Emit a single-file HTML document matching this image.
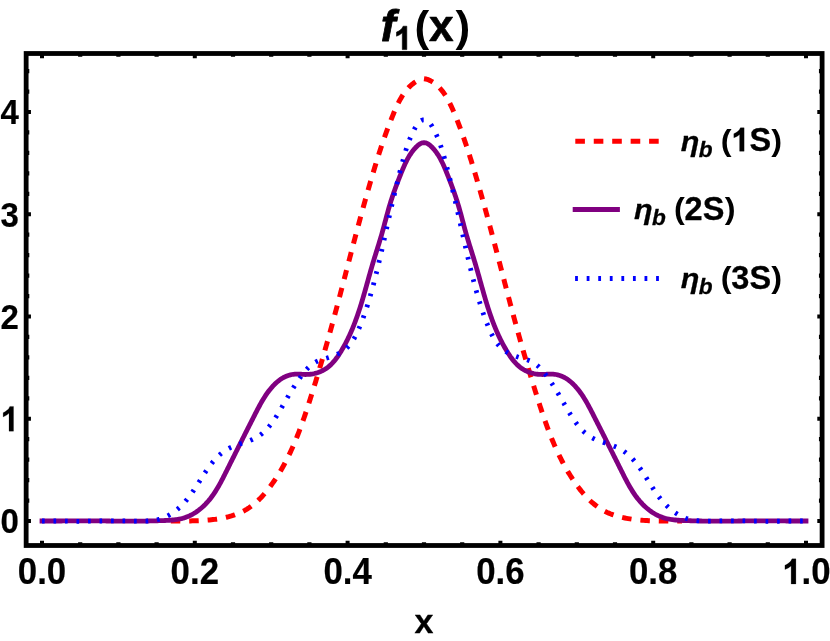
<!DOCTYPE html>
<html><head><meta charset="utf-8"><title>f1(x)</title>
<style>
html,body{margin:0;padding:0;background:#fff;}
svg{display:block;will-change:transform;}
text{font-family:"Liberation Sans",sans-serif;font-weight:bold;fill:#000;}
.i{font-style:italic;}
</style></head>
<body>
<svg width="830" height="641" viewBox="0 0 830 641">
<rect x="0" y="0" width="830" height="641" fill="#fff"/>
<!-- curves -->
<g fill="none" stroke-linejoin="round">
<path d="M166.00 520.92 L167.04 520.92 L168.72 520.93 L170.40 520.94 L172.08 520.94 L173.77 520.95 L175.45 520.96 L177.13 520.96 L178.81 520.97 L180.49 520.97 L182.17 520.97 L183.86 520.96 L185.55 520.95 L187.24 520.94 L188.93 520.92 L190.63 520.89 L192.33 520.86 L194.04 520.82 L195.76 520.77 L197.47 520.71 L199.19 520.64 L200.92 520.56 L202.64 520.47 L204.37 520.37 L206.10 520.25 L207.82 520.11 L209.54 519.96 L211.27 519.79 L212.98 519.60 L214.70 519.39 L216.40 519.16 L218.10 518.90 L219.80 518.63 L221.48 518.33 L223.16 518.00 L224.83 517.65 L226.48 517.27 L228.13 516.86 L229.76 516.42 L231.38 515.96 L232.98 515.46 L234.57 514.92 L236.14 514.35 L237.69 513.75 L239.23 513.11 L240.75 512.44 L242.25 511.72 L243.72 510.97 L245.18 510.17 L246.61 509.34 L248.02 508.46 L249.41 507.54 L250.77 506.58 L252.11 505.58 L253.43 504.54 L254.73 503.47 L256.01 502.37 L257.26 501.24 L258.49 500.07 L259.71 498.88 L260.90 497.65 L262.07 496.41 L263.23 495.14 L264.36 493.85 L265.48 492.53 L266.58 491.20 L267.66 489.86 L268.72 488.49 L269.77 487.12 L270.79 485.73 L271.81 484.33 L272.80 482.92 L273.79 481.50 L274.75 480.08 L275.70 478.65 L276.64 477.21 L277.56 475.77 L278.47 474.32 L279.36 472.86 L280.24 471.40 L281.10 469.93 L281.95 468.45 L282.79 466.97 L283.62 465.48 L284.43 463.99 L285.23 462.49 L286.02 460.99 L286.80 459.48 L287.57 457.97 L288.32 456.45 L289.06 454.92 L289.80 453.40 L290.52 451.86 L291.23 450.32 L291.93 448.78 L292.62 447.24 L293.30 445.68 L293.98 444.13 L294.64 442.57 L295.30 441.01 L295.94 439.44 L296.58 437.87 L297.21 436.30 L297.83 434.72 L298.45 433.14 L299.06 431.56 L299.66 429.97 L300.25 428.39 L300.84 426.79 L301.42 425.20 L301.99 423.60 L302.56 422.01 L303.13 420.41 L303.69 418.80 L304.24 417.20 L304.79 415.59 L305.33 413.98 L305.88 412.37 L306.41 410.76 L306.94 409.15 L307.47 407.54 L308.00 405.92 L308.52 404.31 L309.04 402.69 L309.56 401.08 L310.08 399.46 L310.59 397.84 L311.10 396.22 L311.61 394.60 L312.12 392.98 L312.63 391.37 L313.13 389.75 L313.64 388.13 L314.14 386.51 L314.64 384.88 L315.14 383.26 L315.64 381.64 L316.13 380.02 L316.62 378.40 L317.12 376.77 L317.61 375.15 L318.10 373.53 L318.58 371.90 L319.07 370.28 L319.55 368.65 L320.04 367.03 L320.52 365.40 L321.00 363.78 L321.48 362.15 L321.95 360.52 L322.43 358.90 L322.90 357.27 L323.38 355.64 L323.85 354.01 L324.32 352.38 L324.79 350.75 L325.25 349.12 L325.72 347.49 L326.18 345.86 L326.65 344.23 L327.11 342.59 L327.57 340.96 L328.03 339.33 L328.49 337.69 L328.94 336.06 L329.40 334.42 L329.85 332.79 L330.31 331.15 L330.76 329.51 L331.21 327.88 L331.66 326.24 L332.11 324.60 L332.56 322.96 L333.00 321.32 L333.45 319.68 L333.89 318.04 L334.34 316.40 L334.78 314.76 L335.22 313.12 L335.66 311.47 L336.10 309.83 L336.54 308.19 L336.98 306.54 L337.42 304.90 L337.86 303.26 L338.29 301.61 L338.73 299.97 L339.16 298.32 L339.60 296.68 L340.03 295.03 L340.47 293.39 L340.90 291.74 L341.33 290.09 L341.76 288.45 L342.20 286.80 L342.63 285.15 L343.06 283.51 L343.49 281.86 L343.92 280.21 L344.35 278.56 L344.78 276.92 L345.21 275.27 L345.64 273.62 L346.07 271.98 L346.50 270.33 L346.93 268.68 L347.36 267.03 L347.79 265.39 L348.22 263.74 L348.65 262.09 L349.08 260.45 L349.51 258.80 L349.94 257.15 L350.37 255.51 L350.80 253.86 L351.23 252.21 L351.66 250.57 L352.09 248.92 L352.52 247.28 L352.96 245.63 L353.39 243.99 L353.82 242.34 L354.25 240.70 L354.69 239.05 L355.12 237.41 L355.56 235.77 L355.99 234.12 L356.43 232.48 L356.87 230.84 L357.31 229.20 L357.74 227.56 L358.18 225.92 L358.62 224.28 L359.06 222.64 L359.51 221.00 L359.95 219.36 L360.39 217.72 L360.84 216.08 L361.28 214.44 L361.73 212.81 L362.18 211.17 L362.63 209.54 L363.08 207.90 L363.53 206.27 L363.98 204.64 L364.43 203.00 L364.89 201.37 L365.34 199.74 L365.80 198.11 L366.26 196.48 L366.72 194.85 L367.18 193.23 L367.64 191.60 L368.11 189.97 L368.57 188.35 L369.04 186.72 L369.51 185.10 L369.98 183.48 L370.45 181.86 L370.92 180.23 L371.40 178.61 L371.88 177.00 L372.35 175.38 L372.83 173.76 L373.32 172.15 L373.80 170.53 L374.29 168.92 L374.77 167.30 L375.26 165.69 L375.76 164.08 L376.25 162.47 L376.75 160.86 L377.25 159.26 L377.75 157.65 L378.26 156.04 L378.77 154.43 L379.28 152.83 L379.80 151.22 L380.32 149.62 L380.85 148.01 L381.38 146.41 L381.92 144.80 L382.46 143.19 L383.01 141.59 L383.56 139.98 L384.11 138.38 L384.68 136.77 L385.25 135.16 L385.82 133.56 L386.40 131.95 L386.99 130.34 L387.59 128.73 L388.19 127.12 L388.80 125.51 L389.42 123.90 L390.04 122.28 L390.67 120.67 L391.31 119.05 L391.96 117.44 L392.62 115.82 L393.29 114.20 L393.96 112.58 L394.65 110.96 L395.35 109.35 L396.07 107.74 L396.80 106.14 L397.55 104.56 L398.32 102.99 L399.11 101.44 L399.93 99.91 L400.77 98.41 L401.64 96.93 L402.54 95.48 L403.48 94.06 L404.44 92.67 L405.45 91.32 L406.49 90.02 L407.56 88.75 L408.68 87.53 L409.85 86.36 L411.05 85.24 L412.31 84.17 L413.61 83.16 L414.96 82.22 L416.34 81.36 L417.77 80.60 L419.23 79.95 L420.72 79.42 L422.24 79.03 L424.00 78.79 L425.76 79.03 L427.28 79.42 L428.77 79.95 L430.23 80.60 L431.66 81.36 L433.04 82.22 L434.39 83.16 L435.69 84.17 L436.95 85.24 L438.15 86.36 L439.32 87.53 L440.44 88.75 L441.51 90.02 L442.55 91.32 L443.56 92.67 L444.52 94.06 L445.46 95.48 L446.36 96.93 L447.23 98.41 L448.07 99.91 L448.89 101.44 L449.68 102.99 L450.45 104.56 L451.20 106.14 L451.93 107.74 L452.65 109.35 L453.35 110.96 L454.04 112.58 L454.71 114.20 L455.38 115.82 L456.04 117.44 L456.69 119.05 L457.33 120.67 L457.96 122.28 L458.58 123.90 L459.20 125.51 L459.81 127.12 L460.41 128.73 L461.01 130.34 L461.60 131.95 L462.18 133.56 L462.75 135.16 L463.32 136.77 L463.89 138.38 L464.44 139.98 L464.99 141.59 L465.54 143.19 L466.08 144.80 L466.62 146.41 L467.15 148.01 L467.68 149.62 L468.20 151.22 L468.72 152.83 L469.23 154.43 L469.74 156.04 L470.25 157.65 L470.75 159.26 L471.25 160.86 L471.75 162.47 L472.24 164.08 L472.74 165.69 L473.23 167.30 L473.71 168.92 L474.20 170.53 L474.68 172.15 L475.17 173.76 L475.65 175.38 L476.12 177.00 L476.60 178.61 L477.08 180.23 L477.55 181.86 L478.02 183.48 L478.49 185.10 L478.96 186.72 L479.43 188.35 L479.89 189.97 L480.36 191.60 L480.82 193.23 L481.28 194.85 L481.74 196.48 L482.20 198.11 L482.66 199.74 L483.11 201.37 L483.57 203.00 L484.02 204.64 L484.47 206.27 L484.92 207.90 L485.37 209.54 L485.82 211.17 L486.27 212.81 L486.72 214.44 L487.16 216.08 L487.61 217.72 L488.05 219.36 L488.49 221.00 L488.94 222.64 L489.38 224.28 L489.82 225.92 L490.26 227.56 L490.69 229.20 L491.13 230.84 L491.57 232.48 L492.01 234.12 L492.44 235.77 L492.88 237.41 L493.31 239.05 L493.75 240.70 L494.18 242.34 L494.61 243.99 L495.04 245.63 L495.48 247.28 L495.91 248.92 L496.34 250.57 L496.77 252.21 L497.20 253.86 L497.63 255.51 L498.06 257.15 L498.49 258.80 L498.92 260.45 L499.35 262.09 L499.78 263.74 L500.21 265.39 L500.64 267.03 L501.07 268.68 L501.50 270.33 L501.93 271.98 L502.36 273.62 L502.79 275.27 L503.22 276.92 L503.65 278.56 L504.08 280.21 L504.51 281.86 L504.94 283.51 L505.37 285.15 L505.80 286.80 L506.24 288.45 L506.67 290.09 L507.10 291.74 L507.53 293.39 L507.97 295.03 L508.40 296.68 L508.84 298.32 L509.27 299.97 L509.71 301.61 L510.14 303.26 L510.58 304.90 L511.02 306.54 L511.46 308.19 L511.90 309.83 L512.34 311.47 L512.78 313.12 L513.22 314.76 L513.66 316.40 L514.11 318.04 L514.55 319.68 L515.00 321.32 L515.44 322.96 L515.89 324.60 L516.34 326.24 L516.79 327.88 L517.24 329.51 L517.69 331.15 L518.15 332.79 L518.60 334.42 L519.06 336.06 L519.51 337.69 L519.97 339.33 L520.43 340.96 L520.89 342.59 L521.35 344.23 L521.82 345.86 L522.28 347.49 L522.75 349.12 L523.21 350.75 L523.68 352.38 L524.15 354.01 L524.62 355.64 L525.10 357.27 L525.57 358.90 L526.05 360.52 L526.52 362.15 L527.00 363.78 L527.48 365.40 L527.96 367.03 L528.45 368.65 L528.93 370.28 L529.42 371.90 L529.90 373.53 L530.39 375.15 L530.88 376.77 L531.38 378.40 L531.87 380.02 L532.36 381.64 L532.86 383.26 L533.36 384.88 L533.86 386.51 L534.36 388.13 L534.87 389.75 L535.37 391.37 L535.88 392.98 L536.39 394.60 L536.90 396.22 L537.41 397.84 L537.92 399.46 L538.44 401.08 L538.96 402.69 L539.48 404.31 L540.00 405.92 L540.53 407.54 L541.06 409.15 L541.59 410.76 L542.12 412.37 L542.67 413.98 L543.21 415.59 L543.76 417.20 L544.31 418.80 L544.87 420.41 L545.44 422.01 L546.01 423.60 L546.58 425.20 L547.16 426.79 L547.75 428.39 L548.34 429.97 L548.94 431.56 L549.55 433.14 L550.17 434.72 L550.79 436.30 L551.42 437.87 L552.06 439.44 L552.70 441.01 L553.36 442.57 L554.02 444.13 L554.70 445.68 L555.38 447.24 L556.07 448.78 L556.77 450.32 L557.48 451.86 L558.20 453.40 L558.94 454.92 L559.68 456.45 L560.43 457.97 L561.20 459.48 L561.98 460.99 L562.77 462.49 L563.57 463.99 L564.38 465.48 L565.21 466.97 L566.05 468.45 L566.90 469.93 L567.76 471.40 L568.64 472.86 L569.53 474.32 L570.44 475.77 L571.36 477.21 L572.30 478.65 L573.25 480.08 L574.21 481.50 L575.20 482.92 L576.19 484.33 L577.21 485.73 L578.23 487.12 L579.28 488.49 L580.34 489.86 L581.42 491.20 L582.52 492.53 L583.64 493.85 L584.77 495.14 L585.93 496.41 L587.10 497.65 L588.29 498.88 L589.51 500.07 L590.74 501.24 L591.99 502.37 L593.27 503.47 L594.57 504.54 L595.89 505.58 L597.23 506.58 L598.59 507.54 L599.98 508.46 L601.39 509.34 L602.82 510.17 L604.28 510.97 L605.75 511.72 L607.25 512.44 L608.77 513.11 L610.31 513.75 L611.86 514.35 L613.43 514.92 L615.02 515.46 L616.62 515.96 L618.24 516.42 L619.87 516.86 L621.52 517.27 L623.17 517.65 L624.84 518.00 L626.52 518.33 L628.20 518.63 L629.90 518.90 L631.60 519.16 L633.30 519.39 L635.02 519.60 L636.73 519.79 L638.46 519.96 L640.18 520.11 L641.90 520.25 L643.63 520.37 L645.36 520.47 L647.08 520.56 L648.81 520.64 L650.53 520.71 L652.24 520.77 L653.96 520.82 L655.67 520.86 L657.37 520.89 L659.07 520.92 L660.76 520.94 L662.45 520.95 L664.14 520.96 L665.83 520.97 L667.51 520.97 L669.19 520.97 L670.87 520.96 L672.55 520.96 L674.23 520.95 L675.92 520.94 L677.60 520.94 L679.28 520.93 L680.96 520.92 L682.00 520.92" stroke="#ff0000" stroke-width="5" stroke-dasharray="9.500 8.940" stroke-dashoffset="13.660"/>
<path d="M42.00 521.00 L59.99 521.01 L61.50 520.98 L63.02 520.95 L64.53 520.93 L66.04 520.91 L67.55 520.89 L69.06 520.87 L70.56 520.86 L72.07 520.85 L73.58 520.84 L75.08 520.83 L76.58 520.82 L78.09 520.82 L79.59 520.82 L81.09 520.82 L82.59 520.82 L84.09 520.82 L85.59 520.83 L87.09 520.83 L88.59 520.84 L90.09 520.85 L91.58 520.86 L93.08 520.87 L94.58 520.88 L96.07 520.89 L97.57 520.90 L99.06 520.92 L100.56 520.93 L102.05 520.95 L103.55 520.96 L105.04 520.97 L106.54 520.99 L108.03 521.00 L109.52 521.02 L111.02 521.03 L112.51 521.04 L114.00 521.05 L115.50 521.07 L116.99 521.08 L118.49 521.09 L119.98 521.10 L121.47 521.11 L122.97 521.12 L124.46 521.12 L125.96 521.13 L127.45 521.13 L128.95 521.13 L130.45 521.13 L131.94 521.13 L133.44 521.13 L134.94 521.13 L136.43 521.12 L137.93 521.11 L139.43 521.10 L140.93 521.09 L142.43 521.07 L143.93 521.05 L145.44 521.03 L146.94 521.01 L148.44 520.98 L149.95 520.95 L151.45 520.92 L152.96 520.89 L154.46 520.85 L155.97 520.81 L157.48 520.76 L158.99 520.71 L160.50 520.66 L162.01 520.61 L163.53 520.55 L165.04 520.48 L166.56 520.41 L168.07 520.33 L169.58 520.24 L171.09 520.13 L172.59 520.00 L174.09 519.85 L175.58 519.67 L177.06 519.46 L178.54 519.21 L180.00 518.93 L181.45 518.61 L182.88 518.24 L184.30 517.83 L185.71 517.36 L187.10 516.84 L188.47 516.28 L189.82 515.66 L191.16 515.00 L192.47 514.29 L193.77 513.54 L195.05 512.75 L196.30 511.92 L197.53 511.06 L198.75 510.15 L199.93 509.22 L201.10 508.25 L202.24 507.26 L203.36 506.23 L204.45 505.18 L205.52 504.11 L206.56 503.01 L207.57 501.89 L208.56 500.76 L209.52 499.61 L210.46 498.44 L211.37 497.25 L212.26 496.05 L213.13 494.83 L213.97 493.60 L214.80 492.36 L215.61 491.11 L216.40 489.84 L217.18 488.56 L217.94 487.28 L218.69 485.98 L219.43 484.68 L220.15 483.36 L220.86 482.05 L221.57 480.72 L222.26 479.39 L222.95 478.06 L223.64 476.72 L224.32 475.38 L224.99 474.03 L225.66 472.69 L226.34 471.34 L227.01 470.00 L227.68 468.65 L228.35 467.31 L229.02 465.96 L229.69 464.62 L230.36 463.28 L231.03 461.93 L231.70 460.59 L232.37 459.25 L233.04 457.90 L233.72 456.56 L234.39 455.22 L235.06 453.88 L235.73 452.54 L236.40 451.20 L237.07 449.85 L237.75 448.51 L238.42 447.17 L239.09 445.83 L239.76 444.49 L240.44 443.15 L241.11 441.81 L241.78 440.47 L242.46 439.13 L243.13 437.79 L243.80 436.45 L244.48 435.12 L245.15 433.78 L245.83 432.44 L246.50 431.10 L247.18 429.76 L247.86 428.42 L248.53 427.09 L249.21 425.75 L249.89 424.41 L250.57 423.07 L251.24 421.73 L251.92 420.40 L252.60 419.06 L253.28 417.72 L253.96 416.38 L254.64 415.05 L255.32 413.71 L256.01 412.37 L256.69 411.04 L257.39 409.71 L258.08 408.38 L258.78 407.05 L259.50 405.73 L260.22 404.42 L260.95 403.11 L261.69 401.81 L262.45 400.52 L263.22 399.24 L264.01 397.96 L264.81 396.70 L265.64 395.45 L266.48 394.21 L267.35 392.98 L268.23 391.77 L269.14 390.57 L270.08 389.39 L271.04 388.23 L272.03 387.08 L273.05 385.96 L274.10 384.86 L275.17 383.79 L276.27 382.75 L277.41 381.76 L278.57 380.81 L279.76 379.90 L280.99 379.04 L282.24 378.24 L283.53 377.50 L284.85 376.82 L286.20 376.21 L287.58 375.67 L289.00 375.20 L290.45 374.81 L291.92 374.50 L293.42 374.27 L294.92 374.12 L296.43 374.04 L297.94 374.04 L299.44 374.12 L300.93 374.23 L302.43 374.36 L303.93 374.45 L305.43 374.48 L306.94 374.46 L308.44 374.39 L309.95 374.25 L311.45 374.06 L312.93 373.81 L314.41 373.51 L315.87 373.15 L317.31 372.73 L318.72 372.25 L320.11 371.72 L321.48 371.13 L322.81 370.48 L324.11 369.78 L325.37 369.01 L326.58 368.19 L327.77 367.32 L328.91 366.39 L330.02 365.42 L331.09 364.40 L332.14 363.34 L333.15 362.24 L334.13 361.11 L335.09 359.95 L336.01 358.76 L336.92 357.54 L337.80 356.30 L338.65 355.04 L339.49 353.76 L340.31 352.47 L341.11 351.18 L341.90 349.87 L342.66 348.56 L343.42 347.25 L344.16 345.92 L344.88 344.60 L345.60 343.27 L346.29 341.93 L346.98 340.59 L347.65 339.24 L348.30 337.89 L348.95 336.53 L349.58 335.17 L350.20 333.81 L350.81 332.44 L351.41 331.07 L352.00 329.69 L352.58 328.31 L353.14 326.92 L353.70 325.54 L354.25 324.14 L354.78 322.75 L355.31 321.35 L355.83 319.95 L356.34 318.54 L356.85 317.13 L357.34 315.72 L357.83 314.31 L358.31 312.89 L358.78 311.47 L359.25 310.05 L359.71 308.63 L360.17 307.20 L360.62 305.78 L361.06 304.35 L361.50 302.91 L361.94 301.48 L362.37 300.05 L362.79 298.61 L363.21 297.17 L363.63 295.73 L364.05 294.29 L364.46 292.85 L364.87 291.41 L365.28 289.97 L365.69 288.52 L366.10 287.08 L366.50 285.63 L366.90 284.19 L367.31 282.74 L367.71 281.30 L368.11 279.85 L368.51 278.40 L368.92 276.96 L369.32 275.51 L369.73 274.07 L370.14 272.63 L370.55 271.18 L370.96 269.74 L371.37 268.30 L371.79 266.86 L372.21 265.42 L372.63 263.98 L373.06 262.54 L373.49 261.11 L373.93 259.67 L374.37 258.24 L374.81 256.81 L375.26 255.38 L375.70 253.95 L376.15 252.52 L376.60 251.09 L377.05 249.66 L377.49 248.23 L377.94 246.79 L378.38 245.36 L378.83 243.93 L379.27 242.50 L379.71 241.06 L380.14 239.62 L380.57 238.18 L381.00 236.74 L381.42 235.30 L381.84 233.86 L382.25 232.41 L382.65 230.96 L383.05 229.51 L383.44 228.06 L383.84 226.60 L384.23 225.15 L384.61 223.69 L385.00 222.23 L385.39 220.78 L385.77 219.32 L386.16 217.87 L386.55 216.41 L386.94 214.96 L387.33 213.51 L387.73 212.06 L388.13 210.62 L388.54 209.17 L388.95 207.73 L389.37 206.30 L389.79 204.87 L390.23 203.44 L390.67 202.01 L391.12 200.59 L391.57 199.17 L392.03 197.76 L392.50 196.34 L392.98 194.93 L393.46 193.53 L393.95 192.12 L394.45 190.71 L394.95 189.31 L395.46 187.91 L395.97 186.51 L396.49 185.10 L397.02 183.70 L397.55 182.30 L398.09 180.90 L398.63 179.50 L399.18 178.10 L399.73 176.69 L400.28 175.29 L400.85 173.88 L401.41 172.48 L401.99 171.07 L402.57 169.66 L403.16 168.26 L403.76 166.86 L404.37 165.47 L405.00 164.09 L405.65 162.72 L406.32 161.36 L407.01 160.01 L407.72 158.69 L408.45 157.38 L409.21 156.09 L410.00 154.82 L410.82 153.58 L411.67 152.36 L412.56 151.17 L413.48 150.01 L414.44 148.89 L415.44 147.79 L416.48 146.73 L417.56 145.71 L418.70 144.76 L419.89 143.92 L421.16 143.26 L422.51 142.82 L424.00 142.65 L425.49 142.82 L426.84 143.26 L428.11 143.92 L429.30 144.76 L430.44 145.71 L431.52 146.73 L432.56 147.79 L433.56 148.89 L434.52 150.01 L435.44 151.17 L436.33 152.36 L437.18 153.58 L438.00 154.82 L438.79 156.09 L439.55 157.38 L440.28 158.69 L440.99 160.01 L441.68 161.36 L442.35 162.72 L443.00 164.09 L443.63 165.47 L444.24 166.86 L444.84 168.26 L445.43 169.66 L446.01 171.07 L446.59 172.48 L447.15 173.88 L447.72 175.29 L448.27 176.69 L448.82 178.10 L449.37 179.50 L449.91 180.90 L450.45 182.30 L450.98 183.70 L451.51 185.10 L452.03 186.51 L452.54 187.91 L453.05 189.31 L453.55 190.71 L454.05 192.12 L454.54 193.53 L455.02 194.93 L455.50 196.34 L455.97 197.76 L456.43 199.17 L456.88 200.59 L457.33 202.01 L457.77 203.44 L458.21 204.87 L458.63 206.30 L459.05 207.73 L459.46 209.17 L459.87 210.62 L460.27 212.06 L460.67 213.51 L461.06 214.96 L461.45 216.41 L461.84 217.87 L462.23 219.32 L462.61 220.78 L463.00 222.23 L463.39 223.69 L463.77 225.15 L464.16 226.60 L464.56 228.06 L464.95 229.51 L465.35 230.96 L465.75 232.41 L466.16 233.86 L466.58 235.30 L467.00 236.74 L467.43 238.18 L467.86 239.62 L468.29 241.06 L468.73 242.50 L469.17 243.93 L469.62 245.36 L470.06 246.79 L470.51 248.23 L470.95 249.66 L471.40 251.09 L471.85 252.52 L472.30 253.95 L472.74 255.38 L473.19 256.81 L473.63 258.24 L474.07 259.67 L474.51 261.11 L474.94 262.54 L475.37 263.98 L475.79 265.42 L476.21 266.86 L476.63 268.30 L477.04 269.74 L477.45 271.18 L477.86 272.63 L478.27 274.07 L478.68 275.51 L479.08 276.96 L479.49 278.40 L479.89 279.85 L480.29 281.30 L480.69 282.74 L481.10 284.19 L481.50 285.63 L481.90 287.08 L482.31 288.52 L482.72 289.97 L483.13 291.41 L483.54 292.85 L483.95 294.29 L484.37 295.73 L484.79 297.17 L485.21 298.61 L485.63 300.05 L486.06 301.48 L486.50 302.91 L486.94 304.35 L487.38 305.78 L487.83 307.20 L488.29 308.63 L488.75 310.05 L489.22 311.47 L489.69 312.89 L490.17 314.31 L490.66 315.72 L491.15 317.13 L491.66 318.54 L492.17 319.95 L492.69 321.35 L493.22 322.75 L493.75 324.14 L494.30 325.54 L494.86 326.92 L495.42 328.31 L496.00 329.69 L496.59 331.07 L497.19 332.44 L497.80 333.81 L498.42 335.17 L499.05 336.53 L499.70 337.89 L500.35 339.24 L501.02 340.59 L501.71 341.93 L502.40 343.27 L503.12 344.60 L503.84 345.92 L504.58 347.25 L505.34 348.56 L506.10 349.87 L506.89 351.18 L507.69 352.47 L508.51 353.76 L509.35 355.04 L510.20 356.30 L511.08 357.54 L511.99 358.76 L512.91 359.95 L513.87 361.11 L514.85 362.24 L515.86 363.34 L516.91 364.40 L517.98 365.42 L519.09 366.39 L520.23 367.32 L521.42 368.19 L522.63 369.01 L523.89 369.78 L525.19 370.48 L526.52 371.13 L527.89 371.72 L529.28 372.25 L530.69 372.73 L532.13 373.15 L533.59 373.51 L535.07 373.81 L536.55 374.06 L538.05 374.25 L539.56 374.39 L541.06 374.46 L542.57 374.48 L544.07 374.45 L545.57 374.36 L547.07 374.23 L548.56 374.12 L550.06 374.04 L551.57 374.04 L553.08 374.12 L554.58 374.27 L556.08 374.50 L557.55 374.81 L559.00 375.20 L560.42 375.67 L561.80 376.21 L563.15 376.82 L564.47 377.50 L565.76 378.24 L567.01 379.04 L568.24 379.90 L569.43 380.81 L570.59 381.76 L571.73 382.75 L572.83 383.79 L573.90 384.86 L574.95 385.96 L575.97 387.08 L576.96 388.23 L577.92 389.39 L578.86 390.57 L579.77 391.77 L580.65 392.98 L581.52 394.21 L582.36 395.45 L583.19 396.70 L583.99 397.96 L584.78 399.24 L585.55 400.52 L586.31 401.81 L587.05 403.11 L587.78 404.42 L588.50 405.73 L589.22 407.05 L589.92 408.38 L590.61 409.71 L591.31 411.04 L591.99 412.37 L592.68 413.71 L593.36 415.05 L594.04 416.38 L594.72 417.72 L595.40 419.06 L596.08 420.40 L596.76 421.73 L597.43 423.07 L598.11 424.41 L598.79 425.75 L599.47 427.09 L600.14 428.42 L600.82 429.76 L601.50 431.10 L602.17 432.44 L602.85 433.78 L603.52 435.12 L604.20 436.45 L604.87 437.79 L605.54 439.13 L606.22 440.47 L606.89 441.81 L607.56 443.15 L608.24 444.49 L608.91 445.83 L609.58 447.17 L610.25 448.51 L610.93 449.85 L611.60 451.20 L612.27 452.54 L612.94 453.88 L613.61 455.22 L614.28 456.56 L614.96 457.90 L615.63 459.25 L616.30 460.59 L616.97 461.93 L617.64 463.28 L618.31 464.62 L618.98 465.96 L619.65 467.31 L620.32 468.65 L620.99 470.00 L621.66 471.34 L622.34 472.69 L623.01 474.03 L623.68 475.38 L624.36 476.72 L625.05 478.06 L625.74 479.39 L626.43 480.72 L627.14 482.05 L627.85 483.36 L628.57 484.68 L629.31 485.98 L630.06 487.28 L630.82 488.56 L631.60 489.84 L632.39 491.11 L633.20 492.36 L634.03 493.60 L634.87 494.83 L635.74 496.05 L636.63 497.25 L637.54 498.44 L638.48 499.61 L639.44 500.76 L640.43 501.89 L641.44 503.01 L642.48 504.11 L643.55 505.18 L644.64 506.23 L645.76 507.26 L646.90 508.25 L648.07 509.22 L649.25 510.15 L650.47 511.06 L651.70 511.92 L652.95 512.75 L654.23 513.54 L655.53 514.29 L656.84 515.00 L658.18 515.66 L659.53 516.28 L660.90 516.84 L662.29 517.36 L663.70 517.83 L665.12 518.24 L666.55 518.61 L668.00 518.93 L669.46 519.21 L670.94 519.46 L672.42 519.67 L673.91 519.85 L675.41 520.00 L676.91 520.13 L678.42 520.24 L679.93 520.33 L681.44 520.41 L682.96 520.48 L684.47 520.55 L685.99 520.61 L687.50 520.66 L689.01 520.71 L690.52 520.76 L692.03 520.81 L693.54 520.85 L695.04 520.89 L696.55 520.92 L698.05 520.95 L699.56 520.98 L701.06 521.01 L702.56 521.03 L704.07 521.05 L705.57 521.07 L707.07 521.09 L708.57 521.10 L710.07 521.11 L711.57 521.12 L713.06 521.13 L714.56 521.13 L716.06 521.13 L717.55 521.13 L719.05 521.13 L720.55 521.13 L722.04 521.13 L723.54 521.12 L725.03 521.12 L726.53 521.11 L728.02 521.10 L729.51 521.09 L731.01 521.08 L732.50 521.07 L734.00 521.05 L735.49 521.04 L736.98 521.03 L738.48 521.02 L739.97 521.00 L741.46 520.99 L742.96 520.97 L744.45 520.96 L745.95 520.95 L747.44 520.93 L748.94 520.92 L750.43 520.90 L751.93 520.89 L753.42 520.88 L754.92 520.87 L756.42 520.86 L757.91 520.85 L759.41 520.84 L760.91 520.83 L762.41 520.83 L763.91 520.82 L765.41 520.82 L766.91 520.82 L768.41 520.82 L769.91 520.82 L771.42 520.82 L772.92 520.83 L774.42 520.84 L775.93 520.85 L777.44 520.86 L778.94 520.87 L780.45 520.89 L781.96 520.91 L783.47 520.93 L784.98 520.95 L786.50 520.98 L788.01 521.01 L806.00 521.00" stroke="#800080" stroke-width="4.8" stroke-linecap="square"/>
<path d="M42.00 521.00 L60.00 521.00 L61.60 521.06 L63.20 521.11 L64.79 521.15 L66.37 521.19 L67.94 521.22 L69.50 521.24 L71.06 521.26 L72.61 521.28 L74.16 521.29 L75.70 521.29 L77.23 521.30 L78.76 521.29 L80.28 521.29 L81.80 521.28 L83.31 521.27 L84.82 521.25 L86.33 521.23 L87.84 521.22 L89.34 521.19 L90.84 521.17 L92.34 521.15 L93.83 521.12 L95.33 521.09 L96.82 521.07 L98.31 521.04 L99.80 521.01 L101.30 520.99 L102.79 520.96 L104.28 520.94 L105.78 520.91 L107.28 520.89 L108.77 520.87 L110.27 520.85 L111.78 520.84 L113.28 520.82 L114.79 520.81 L116.31 520.81 L117.82 520.80 L119.34 520.80 L120.87 520.81 L122.40 520.82 L123.94 520.83 L125.48 520.85 L127.03 520.87 L128.58 520.90 L130.14 520.94 L131.71 520.98 L133.29 521.02 L134.86 521.06 L136.44 521.10 L138.02 521.13 L139.60 521.15 L141.18 521.16 L142.76 521.15 L144.33 521.12 L145.89 521.07 L147.45 521.00 L149.00 520.90 L150.54 520.76 L152.06 520.59 L153.57 520.39 L155.07 520.14 L156.55 519.85 L158.02 519.51 L159.46 519.12 L160.89 518.69 L162.29 518.20 L163.68 517.67 L165.05 517.09 L166.39 516.46 L167.72 515.80 L169.03 515.09 L170.32 514.34 L171.58 513.55 L172.83 512.73 L174.06 511.86 L175.27 510.97 L176.45 510.03 L177.62 509.07 L178.77 508.08 L179.90 507.05 L181.00 506.00 L182.09 504.92 L183.16 503.82 L184.20 502.69 L185.23 501.54 L186.24 500.37 L187.22 499.18 L188.19 497.97 L189.14 496.74 L190.07 495.50 L190.99 494.24 L191.89 492.97 L192.78 491.69 L193.66 490.40 L194.52 489.10 L195.38 487.79 L196.23 486.48 L197.08 485.16 L197.92 483.84 L198.76 482.51 L199.59 481.19 L200.42 479.86 L201.25 478.54 L202.08 477.22 L202.92 475.91 L203.76 474.61 L204.60 473.31 L205.45 472.02 L206.31 470.74 L207.18 469.47 L208.05 468.22 L208.94 466.98 L209.84 465.75 L210.75 464.55 L211.68 463.36 L212.62 462.19 L213.59 461.05 L214.57 459.93 L215.57 458.83 L216.59 457.75 L217.64 456.71 L218.70 455.69 L219.80 454.70 L220.92 453.75 L222.07 452.82 L223.24 451.93 L224.45 451.08 L225.69 450.26 L226.96 449.48 L228.27 448.74 L229.61 448.04 L230.98 447.39 L232.39 446.77 L233.83 446.18 L235.29 445.62 L236.78 445.09 L238.27 444.57 L239.78 444.07 L241.29 443.57 L242.81 443.07 L244.32 442.57 L245.82 442.07 L247.31 441.54 L248.78 441.00 L250.23 440.43 L251.65 439.84 L253.05 439.21 L254.41 438.54 L255.74 437.83 L257.03 437.09 L258.30 436.30 L259.53 435.48 L260.74 434.61 L261.91 433.70 L263.05 432.75 L264.16 431.76 L265.24 430.73 L266.30 429.67 L267.33 428.57 L268.34 427.44 L269.32 426.29 L270.28 425.10 L271.22 423.89 L272.14 422.66 L273.04 421.41 L273.93 420.14 L274.79 418.85 L275.65 417.55 L276.48 416.24 L277.31 414.92 L278.13 413.59 L278.93 412.25 L279.72 410.91 L280.51 409.56 L281.29 408.22 L282.07 406.88 L282.84 405.55 L283.60 404.22 L284.37 402.89 L285.13 401.58 L285.89 400.26 L286.66 398.95 L287.42 397.64 L288.19 396.34 L288.95 395.05 L289.73 393.75 L290.50 392.46 L291.28 391.17 L292.07 389.89 L292.87 388.60 L293.67 387.33 L294.48 386.05 L295.30 384.77 L296.14 383.50 L296.98 382.23 L297.84 380.96 L298.71 379.69 L299.59 378.42 L300.49 377.15 L301.40 375.89 L302.34 374.63 L303.29 373.38 L304.26 372.16 L305.26 370.95 L306.29 369.77 L307.34 368.63 L308.42 367.53 L309.53 366.47 L310.67 365.46 L311.84 364.50 L313.06 363.61 L314.31 362.78 L315.60 362.02 L316.93 361.33 L318.30 360.73 L319.71 360.19 L321.15 359.70 L322.62 359.25 L324.09 358.83 L325.58 358.41 L327.07 357.98 L328.56 357.53 L330.04 357.06 L331.50 356.55 L332.95 356.02 L334.39 355.45 L335.80 354.85 L337.20 354.21 L338.56 353.53 L339.90 352.81 L341.21 352.06 L342.48 351.25 L343.72 350.40 L344.91 349.51 L346.06 348.57 L347.17 347.57 L348.23 346.52 L349.24 345.42 L350.20 344.28 L351.12 343.09 L352.01 341.85 L352.85 340.59 L353.66 339.28 L354.43 337.95 L355.17 336.59 L355.89 335.21 L356.58 333.81 L357.25 332.40 L357.89 330.97 L358.52 329.54 L359.13 328.10 L359.74 326.66 L360.32 325.21 L360.90 323.77 L361.47 322.33 L362.02 320.89 L362.57 319.45 L363.10 318.00 L363.63 316.56 L364.15 315.12 L364.65 313.67 L365.15 312.23 L365.64 310.78 L366.12 309.33 L366.60 307.88 L367.07 306.43 L367.53 304.98 L367.98 303.53 L368.43 302.08 L368.87 300.63 L369.31 299.17 L369.74 297.71 L370.16 296.25 L370.59 294.79 L371.00 293.33 L371.42 291.87 L371.83 290.40 L372.23 288.93 L372.63 287.47 L373.03 286.00 L373.43 284.52 L373.82 283.05 L374.20 281.58 L374.59 280.10 L374.97 278.62 L375.35 277.15 L375.72 275.67 L376.09 274.18 L376.46 272.70 L376.83 271.22 L377.19 269.74 L377.55 268.25 L377.91 266.76 L378.27 265.28 L378.62 263.79 L378.98 262.30 L379.33 260.81 L379.67 259.32 L380.02 257.83 L380.37 256.34 L380.71 254.85 L381.05 253.35 L381.39 251.86 L381.73 250.36 L382.07 248.87 L382.40 247.38 L382.74 245.88 L383.07 244.39 L383.41 242.89 L383.74 241.39 L384.07 239.90 L384.41 238.40 L384.74 236.90 L385.07 235.41 L385.40 233.91 L385.73 232.41 L386.06 230.92 L386.39 229.42 L386.72 227.93 L387.05 226.43 L387.39 224.93 L387.72 223.44 L388.05 221.94 L388.38 220.45 L388.72 218.95 L389.05 217.46 L389.39 215.96 L389.72 214.47 L390.06 212.98 L390.39 211.48 L390.73 209.99 L391.07 208.50 L391.41 207.01 L391.75 205.51 L392.09 204.02 L392.44 202.53 L392.78 201.04 L393.13 199.55 L393.47 198.07 L393.82 196.58 L394.17 195.09 L394.52 193.60 L394.88 192.12 L395.23 190.63 L395.59 189.14 L395.95 187.66 L396.31 186.18 L396.67 184.69 L397.03 183.21 L397.40 181.73 L397.77 180.25 L398.14 178.77 L398.51 177.29 L398.88 175.81 L399.26 174.33 L399.64 172.86 L400.02 171.38 L400.40 169.91 L400.79 168.43 L401.18 166.96 L401.57 165.49 L401.96 164.02 L402.36 162.55 L402.76 161.08 L403.16 159.61 L403.56 158.14 L403.97 156.68 L404.39 155.21 L404.81 153.75 L405.25 152.29 L405.69 150.83 L406.14 149.38 L406.60 147.92 L407.08 146.47 L407.58 145.02 L408.08 143.57 L408.61 142.13 L409.15 140.68 L409.72 139.25 L410.30 137.81 L410.91 136.38 L411.54 134.95 L412.20 133.53 L412.88 132.10 L413.59 130.69 L414.33 129.27 L415.10 127.86 L415.90 126.47 L416.74 125.11 L417.63 123.82 L418.57 122.65 L419.59 121.63 L420.68 120.80 L421.85 120.20 L423.12 119.85 L424.00 119.85 L424.88 119.85 L426.15 120.20 L427.32 120.80 L428.41 121.63 L429.43 122.65 L430.37 123.82 L431.26 125.11 L432.10 126.47 L432.90 127.86 L433.67 129.27 L434.41 130.69 L435.12 132.10 L435.80 133.53 L436.46 134.95 L437.09 136.38 L437.70 137.81 L438.28 139.25 L438.85 140.68 L439.39 142.13 L439.92 143.57 L440.42 145.02 L440.92 146.47 L441.40 147.92 L441.86 149.38 L442.31 150.83 L442.75 152.29 L443.19 153.75 L443.61 155.21 L444.03 156.68 L444.44 158.14 L444.84 159.61 L445.24 161.08 L445.64 162.55 L446.04 164.02 L446.43 165.49 L446.82 166.96 L447.21 168.43 L447.60 169.91 L447.98 171.38 L448.36 172.86 L448.74 174.33 L449.12 175.81 L449.49 177.29 L449.86 178.77 L450.23 180.25 L450.60 181.73 L450.97 183.21 L451.33 184.69 L451.69 186.18 L452.05 187.66 L452.41 189.14 L452.77 190.63 L453.12 192.12 L453.48 193.60 L453.83 195.09 L454.18 196.58 L454.53 198.07 L454.87 199.55 L455.22 201.04 L455.56 202.53 L455.91 204.02 L456.25 205.51 L456.59 207.01 L456.93 208.50 L457.27 209.99 L457.61 211.48 L457.94 212.98 L458.28 214.47 L458.61 215.96 L458.95 217.46 L459.28 218.95 L459.62 220.45 L459.95 221.94 L460.28 223.44 L460.61 224.93 L460.95 226.43 L461.28 227.93 L461.61 229.42 L461.94 230.92 L462.27 232.41 L462.60 233.91 L462.93 235.41 L463.26 236.90 L463.59 238.40 L463.93 239.90 L464.26 241.39 L464.59 242.89 L464.93 244.39 L465.26 245.88 L465.60 247.38 L465.93 248.87 L466.27 250.36 L466.61 251.86 L466.95 253.35 L467.29 254.85 L467.63 256.34 L467.98 257.83 L468.33 259.32 L468.67 260.81 L469.02 262.30 L469.38 263.79 L469.73 265.28 L470.09 266.76 L470.45 268.25 L470.81 269.74 L471.17 271.22 L471.54 272.70 L471.91 274.18 L472.28 275.67 L472.65 277.15 L473.03 278.62 L473.41 280.10 L473.80 281.58 L474.18 283.05 L474.57 284.52 L474.97 286.00 L475.37 287.47 L475.77 288.93 L476.17 290.40 L476.58 291.87 L477.00 293.33 L477.41 294.79 L477.84 296.25 L478.26 297.71 L478.69 299.17 L479.13 300.63 L479.57 302.08 L480.02 303.53 L480.47 304.98 L480.93 306.43 L481.40 307.88 L481.88 309.33 L482.36 310.78 L482.85 312.23 L483.35 313.67 L483.85 315.12 L484.37 316.56 L484.90 318.00 L485.43 319.45 L485.98 320.89 L486.53 322.33 L487.10 323.77 L487.68 325.21 L488.26 326.66 L488.87 328.10 L489.48 329.54 L490.11 330.97 L490.75 332.40 L491.42 333.81 L492.11 335.21 L492.83 336.59 L493.57 337.95 L494.34 339.28 L495.15 340.59 L495.99 341.85 L496.88 343.09 L497.80 344.28 L498.76 345.42 L499.77 346.52 L500.83 347.57 L501.94 348.57 L503.09 349.51 L504.28 350.40 L505.52 351.25 L506.79 352.06 L508.10 352.81 L509.44 353.53 L510.80 354.21 L512.20 354.85 L513.61 355.45 L515.05 356.02 L516.50 356.55 L517.96 357.06 L519.44 357.53 L520.93 357.98 L522.42 358.41 L523.91 358.83 L525.38 359.25 L526.85 359.70 L528.29 360.19 L529.70 360.73 L531.07 361.33 L532.40 362.02 L533.69 362.78 L534.94 363.61 L536.16 364.50 L537.33 365.46 L538.47 366.47 L539.58 367.53 L540.66 368.63 L541.71 369.77 L542.74 370.95 L543.74 372.16 L544.71 373.38 L545.66 374.63 L546.60 375.89 L547.51 377.15 L548.41 378.42 L549.29 379.69 L550.16 380.96 L551.02 382.23 L551.86 383.50 L552.70 384.77 L553.52 386.05 L554.33 387.33 L555.13 388.60 L555.93 389.89 L556.72 391.17 L557.50 392.46 L558.27 393.75 L559.05 395.05 L559.81 396.34 L560.58 397.64 L561.34 398.95 L562.11 400.26 L562.87 401.58 L563.63 402.89 L564.40 404.22 L565.16 405.55 L565.93 406.88 L566.71 408.22 L567.49 409.56 L568.28 410.91 L569.07 412.25 L569.87 413.59 L570.69 414.92 L571.52 416.24 L572.35 417.55 L573.21 418.85 L574.07 420.14 L574.96 421.41 L575.86 422.66 L576.78 423.89 L577.72 425.10 L578.68 426.29 L579.66 427.44 L580.67 428.57 L581.70 429.67 L582.76 430.73 L583.84 431.76 L584.95 432.75 L586.09 433.70 L587.26 434.61 L588.47 435.48 L589.70 436.30 L590.97 437.09 L592.26 437.83 L593.59 438.54 L594.95 439.21 L596.35 439.84 L597.77 440.43 L599.22 441.00 L600.69 441.54 L602.18 442.07 L603.68 442.57 L605.19 443.07 L606.71 443.57 L608.22 444.07 L609.73 444.57 L611.22 445.09 L612.71 445.62 L614.17 446.18 L615.61 446.77 L617.02 447.39 L618.39 448.04 L619.73 448.74 L621.04 449.48 L622.31 450.26 L623.55 451.08 L624.76 451.93 L625.93 452.82 L627.08 453.75 L628.20 454.70 L629.30 455.69 L630.36 456.71 L631.41 457.75 L632.43 458.83 L633.43 459.93 L634.41 461.05 L635.38 462.19 L636.32 463.36 L637.25 464.55 L638.16 465.75 L639.06 466.98 L639.95 468.22 L640.82 469.47 L641.69 470.74 L642.55 472.02 L643.40 473.31 L644.24 474.61 L645.08 475.91 L645.92 477.22 L646.75 478.54 L647.58 479.86 L648.41 481.19 L649.24 482.51 L650.08 483.84 L650.92 485.16 L651.77 486.48 L652.62 487.79 L653.48 489.10 L654.34 490.40 L655.22 491.69 L656.11 492.97 L657.01 494.24 L657.93 495.50 L658.86 496.74 L659.81 497.97 L660.78 499.18 L661.76 500.37 L662.77 501.54 L663.80 502.69 L664.84 503.82 L665.91 504.92 L667.00 506.00 L668.10 507.05 L669.23 508.08 L670.38 509.07 L671.55 510.03 L672.73 510.97 L673.94 511.86 L675.17 512.73 L676.42 513.55 L677.68 514.34 L678.97 515.09 L680.28 515.80 L681.61 516.46 L682.95 517.09 L684.32 517.67 L685.71 518.20 L687.11 518.69 L688.54 519.12 L689.98 519.51 L691.45 519.85 L692.93 520.14 L694.43 520.39 L695.94 520.59 L697.46 520.76 L699.00 520.90 L700.55 521.00 L702.11 521.07 L703.67 521.12 L705.24 521.15 L706.82 521.16 L708.40 521.15 L709.98 521.13 L711.56 521.10 L713.14 521.06 L714.71 521.02 L716.29 520.98 L717.86 520.94 L719.42 520.90 L720.97 520.87 L722.52 520.85 L724.06 520.83 L725.60 520.82 L727.13 520.81 L728.66 520.80 L730.18 520.80 L731.69 520.81 L733.21 520.81 L734.72 520.82 L736.22 520.84 L737.73 520.85 L739.23 520.87 L740.72 520.89 L742.22 520.91 L743.72 520.94 L745.21 520.96 L746.70 520.99 L748.20 521.01 L749.69 521.04 L751.18 521.07 L752.67 521.09 L754.17 521.12 L755.66 521.15 L757.16 521.17 L758.66 521.19 L760.16 521.22 L761.67 521.23 L763.18 521.25 L764.69 521.27 L766.20 521.28 L767.72 521.29 L769.24 521.29 L770.77 521.30 L772.30 521.29 L773.84 521.29 L775.39 521.28 L776.94 521.26 L778.50 521.24 L780.06 521.22 L781.63 521.19 L783.21 521.15 L784.80 521.11 L786.40 521.06 L788.00 521.00 L806.00 521.00" stroke="#0000ff" stroke-width="4.8" stroke-dasharray="2.65 8.857" stroke-dashoffset="0"/>
</g>
<!-- frame + ticks -->
<path d="M42.00 545.50 v-4.80 M42.00 53.50 v4.80 M194.80 545.50 v-4.80 M194.80 53.50 v4.80 M347.60 545.50 v-4.80 M347.60 53.50 v4.80 M500.40 545.50 v-4.80 M500.40 53.50 v4.80 M653.20 545.50 v-4.80 M653.20 53.50 v4.80 M806.00 545.50 v-4.80 M806.00 53.50 v4.80 M26.15 521.00 h4.80 M822.10 521.00 h-4.80 M26.15 418.75 h4.80 M822.10 418.75 h-4.80 M26.15 316.50 h4.80 M822.10 316.50 h-4.80 M26.15 214.25 h4.80 M822.10 214.25 h-4.80 M26.15 112.00 h4.80 M822.10 112.00 h-4.80" stroke="#000" stroke-width="4" fill="none"/>
<path d="M80.20 545.50 v-3.15 M80.20 53.50 v3.15 M118.40 545.50 v-3.15 M118.40 53.50 v3.15 M156.60 545.50 v-3.15 M156.60 53.50 v3.15 M233.00 545.50 v-3.15 M233.00 53.50 v3.15 M271.20 545.50 v-3.15 M271.20 53.50 v3.15 M309.40 545.50 v-3.15 M309.40 53.50 v3.15 M385.80 545.50 v-3.15 M385.80 53.50 v3.15 M424.00 545.50 v-3.15 M424.00 53.50 v3.15 M462.20 545.50 v-3.15 M462.20 53.50 v3.15 M538.60 545.50 v-3.15 M538.60 53.50 v3.15 M576.80 545.50 v-3.15 M576.80 53.50 v3.15 M615.00 545.50 v-3.15 M615.00 53.50 v3.15 M691.40 545.50 v-3.15 M691.40 53.50 v3.15 M729.60 545.50 v-3.15 M729.60 53.50 v3.15 M767.80 545.50 v-3.15 M767.80 53.50 v3.15 M26.15 500.55 h3.15 M822.10 500.55 h-3.15 M26.15 480.10 h3.15 M822.10 480.10 h-3.15 M26.15 459.65 h3.15 M822.10 459.65 h-3.15 M26.15 439.20 h3.15 M822.10 439.20 h-3.15 M26.15 398.30 h3.15 M822.10 398.30 h-3.15 M26.15 377.85 h3.15 M822.10 377.85 h-3.15 M26.15 357.40 h3.15 M822.10 357.40 h-3.15 M26.15 336.95 h3.15 M822.10 336.95 h-3.15 M26.15 296.05 h3.15 M822.10 296.05 h-3.15 M26.15 275.60 h3.15 M822.10 275.60 h-3.15 M26.15 255.15 h3.15 M822.10 255.15 h-3.15 M26.15 234.70 h3.15 M822.10 234.70 h-3.15 M26.15 193.80 h3.15 M822.10 193.80 h-3.15 M26.15 173.35 h3.15 M822.10 173.35 h-3.15 M26.15 152.90 h3.15 M822.10 152.90 h-3.15 M26.15 132.45 h3.15 M822.10 132.45 h-3.15 M26.15 91.55 h3.15 M822.10 91.55 h-3.15 M26.15 71.10 h3.15 M822.10 71.10 h-3.15" stroke="#000" stroke-width="4.2" fill="none"/>
<rect x="26.15" y="53.50" width="795.95" height="492.00" fill="none" stroke="#000" stroke-width="4.8"/>
<text class="i" x="380.80" y="41.00" font-size="44.80" text-anchor="start" stroke="#000" stroke-width="0.80" stroke-linejoin="round">f</text>
<path d="M406.79 49.60H402.32V32.78Q399.87 35.06 396.54 36.16V32.10Q398.28 31.53 400.33 29.94Q402.38 28.34 403.14 26.21H406.79Z" fill="#000" stroke="#000" stroke-width="0.60" stroke-linejoin="round"/>
<text transform="translate(414.60,41.00) scale(1,0.9700)" font-size="44.20" text-anchor="start">(</text>
<text x="428.90" y="41.00" font-size="44.20" text-anchor="start" stroke="#000" stroke-width="0.55" stroke-linejoin="round">x</text>
<text transform="translate(455.60,41.00) scale(1,0.9700)" font-size="44.20" text-anchor="start">)</text>
<text transform="translate(18.90,533.40) scale(1,1.0900)" font-size="33.00" text-anchor="end" stroke="#000" stroke-width="0.20" stroke-linejoin="round">0</text>
<path d="M13.54 431.15H9.00V413.35Q6.51 415.77 3.13 416.93V412.63Q4.90 412.03 6.98 410.35Q9.06 408.65 9.83 406.40H13.54Z" fill="#000" stroke="#000" stroke-width="0.20" stroke-linejoin="round"/>
<text transform="translate(18.90,328.90) scale(1,1.0900)" font-size="33.00" text-anchor="end" stroke="#000" stroke-width="0.20" stroke-linejoin="round">2</text>
<text transform="translate(18.90,226.65) scale(1,1.0900)" font-size="33.00" text-anchor="end" stroke="#000" stroke-width="0.20" stroke-linejoin="round">3</text>
<text transform="translate(18.90,124.40) scale(1,1.0900)" font-size="33.00" text-anchor="end" stroke="#000" stroke-width="0.20" stroke-linejoin="round">4</text>
<text transform="translate(42.00,584.00) scale(1,1.0500)" font-size="34.80" text-anchor="middle" stroke="#000" stroke-width="0.20" stroke-linejoin="round">0.0</text>
<text transform="translate(194.80,584.00) scale(1,1.0500)" font-size="34.80" text-anchor="middle" stroke="#000" stroke-width="0.20" stroke-linejoin="round">0.2</text>
<text transform="translate(347.60,584.00) scale(1,1.0500)" font-size="34.80" text-anchor="middle" stroke="#000" stroke-width="0.20" stroke-linejoin="round">0.4</text>
<text transform="translate(500.40,584.00) scale(1,1.0500)" font-size="34.80" text-anchor="middle" stroke="#000" stroke-width="0.20" stroke-linejoin="round">0.6</text>
<text transform="translate(653.20,584.00) scale(1,1.0500)" font-size="34.80" text-anchor="middle" stroke="#000" stroke-width="0.20" stroke-linejoin="round">0.8</text>
<path d="M795.91 584.00H791.12V565.92Q788.50 568.38 784.93 569.55V565.19Q786.80 564.57 788.99 562.87Q791.19 561.14 792.00 558.86H795.91Z" fill="#000" stroke="#000" stroke-width="0.20" stroke-linejoin="round"/>
<text transform="translate(801.56,584.00) scale(1,1.0500)" font-size="34.80" text-anchor="start" stroke="#000" stroke-width="0.20" stroke-linejoin="round">.0</text>
<text x="424.00" y="632.60" font-size="34.00" text-anchor="middle" stroke="#000" stroke-width="0.30" stroke-linejoin="round">x</text>
<!-- legend -->
<g fill="none" stroke-width="5">
<path d="M575.3 141.2 H658.8" stroke="#ff0000" stroke-dasharray="9.6 8.85"/>
<path d="M575.2 209.5 H617.4" stroke="#800080" stroke-linecap="square"/>
<path d="M575.1 278.5 H659.0" stroke="#0000ff" stroke-dasharray="2.8 8.77"/>
</g>
<text class="i" transform="translate(680.80,150.90) scale(1,0.9350)" font-size="30.50" text-anchor="start" stroke="#000" stroke-width="0.30" stroke-linejoin="round">η</text>
<text class="i" x="698.70" y="156.60" font-size="22.60" text-anchor="start" stroke="#000" stroke-width="0.30" stroke-linejoin="round">b</text>
<text transform="translate(720.80,150.60) scale(1,0.9300)" font-size="32.50" text-anchor="start">(</text>
<path d="M744.11 151.20H739.64V134.38Q737.19 136.66 733.86 137.76V133.70Q735.61 133.13 737.65 131.54Q739.70 129.94 740.46 127.81H744.11Z" fill="#000" stroke="#000" stroke-width="0.30" stroke-linejoin="round"/>
<text transform="translate(749.39,151.40) scale(1,1.0500)" font-size="32.50" text-anchor="start" stroke="#000" stroke-width="0.30" stroke-linejoin="round">S</text>
<text transform="translate(771.37,150.60) scale(1,0.9300)" font-size="32.50" text-anchor="start">)</text>
<text class="i" transform="translate(634.10,219.20) scale(1,0.9350)" font-size="30.50" text-anchor="start" stroke="#000" stroke-width="0.30" stroke-linejoin="round">η</text>
<text class="i" x="652.00" y="224.90" font-size="22.60" text-anchor="start" stroke="#000" stroke-width="0.30" stroke-linejoin="round">b</text>
<text transform="translate(674.10,218.90) scale(1,0.9300)" font-size="32.50" text-anchor="start">(</text>
<text transform="translate(684.62,219.50) scale(1,1.0300)" font-size="32.50" text-anchor="start" stroke="#000" stroke-width="0.30" stroke-linejoin="round">2</text>
<text transform="translate(702.69,219.70) scale(1,1.0500)" font-size="32.50" text-anchor="start" stroke="#000" stroke-width="0.30" stroke-linejoin="round">S</text>
<text transform="translate(724.67,218.90) scale(1,0.9300)" font-size="32.50" text-anchor="start">)</text>
<text class="i" transform="translate(680.80,288.20) scale(1,0.9350)" font-size="30.50" text-anchor="start" stroke="#000" stroke-width="0.30" stroke-linejoin="round">η</text>
<text class="i" x="698.70" y="293.90" font-size="22.60" text-anchor="start" stroke="#000" stroke-width="0.30" stroke-linejoin="round">b</text>
<text transform="translate(720.80,287.90) scale(1,0.9300)" font-size="32.50" text-anchor="start">(</text>
<text transform="translate(731.32,288.50) scale(1,1.0300)" font-size="32.50" text-anchor="start" stroke="#000" stroke-width="0.30" stroke-linejoin="round">3</text>
<text transform="translate(749.39,288.70) scale(1,1.0500)" font-size="32.50" text-anchor="start" stroke="#000" stroke-width="0.30" stroke-linejoin="round">S</text>
<text transform="translate(771.37,287.90) scale(1,0.9300)" font-size="32.50" text-anchor="start">)</text>
</svg>
</body></html>
